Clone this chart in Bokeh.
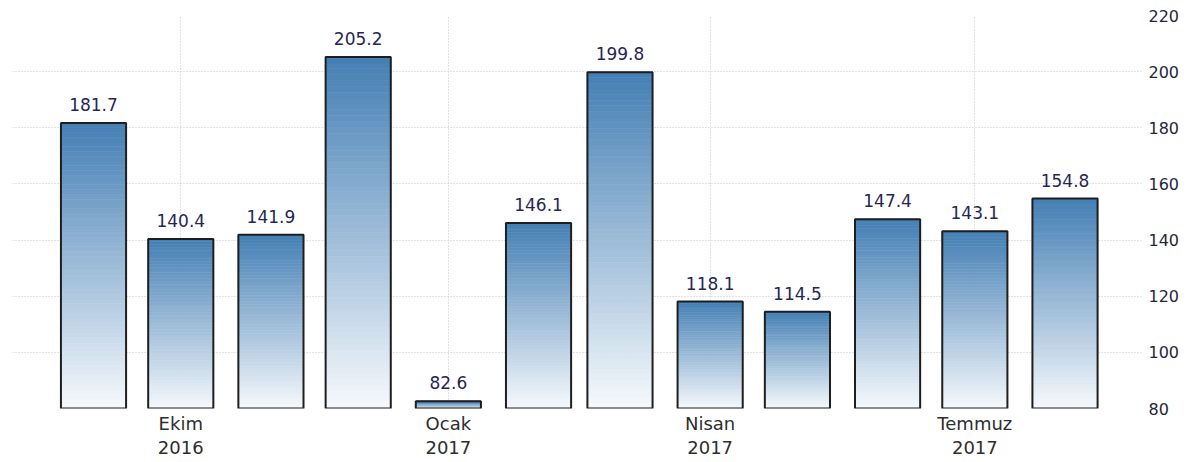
import pandas as pd
from bokeh.plotting import figure
from bokeh.models import Range1d, FixedTicker, ColumnDataSource
from bokeh.embed import file_html
from bokeh.resources import INLINE
from bokeh.core.properties import value

# ---- data ----
months = ["2016-09-01", "2016-10-01", "2016-11-01", "2016-12-01", "2017-01-01", "2017-02-01",
          "2017-03-01", "2017-04-01", "2017-05-01", "2017-06-01", "2017-07-01", "2017-08-01"]
values = [181.7, 140.4, 141.9, 205.2, 82.6, 146.1, 199.8, 118.1, 114.5, 147.4, 143.1, 154.8]
tick_months = ["2016-10-01", "2017-01-01", "2017-04-01", "2017-07-01"]
tick_labels = ["Ekim\n2016", "Ocak\n2017", "Nisan\n2017", "Temmuz\n2017"]
y_ticks = [80, 100, 120, 140, 160, 180, 200, 220]

base = pd.Timestamp(months[0])
xs = [(pd.Timestamp(m) - base).days for m in months]
tx = [(pd.Timestamp(m) - base).days for m in tick_months]

Y0, Y1 = 80, 220
HALF = 11.2  # half bar width in days

p = figure(frame_width=1130, frame_height=393, output_backend="svg", toolbar_location=None,
           x_range=Range1d(-27.85, 360.64), y_range=Range1d(Y0, Y1),
           y_axis_location="right", min_border_left=12, min_border_right=0,
           min_border_top=15, min_border_bottom=0)
p.outline_line_color = None
p.background_fill_color = "white"
p.border_fill_color = "white"

# gradient bars: slices from base to value
N = 60
top_c = (68, 127, 180)
bot_c = (246, 249, 252)
L, R, B, T, C = [], [], [], [], []
for x, v in zip(xs, values):
    h = v - Y0
    for k in range(N):
        b = Y0 + h * k / N
        t = Y0 + h * (k + 1) / N
        f = (k + 0.5) / N
        col = tuple(int(round(bot_c[i] + (top_c[i] - bot_c[i]) * f)) for i in range(3))
        L.append(x - HALF); R.append(x + HALF); B.append(b); T.append(t)
        C.append("#%02x%02x%02x" % col)
p.quad(left=L, right=R, bottom=B, top=T, fill_color=C, line_color=C, line_width=0.6)

src = ColumnDataSource(dict(x=xs, v=values, left=[x - HALF for x in xs],
                            right=[x + HALF for x in xs], lab=["%.1f" % v for v in values]))
p.quad(left="left", right="right", bottom=Y0, top="v", source=src,
       fill_color=None, line_color="#1e1e1e", line_width=2)

p.text(x="x", y="v", text="lab", source=src, text_align="center", text_baseline="bottom",
       y_offset=-12, text_font=value("DejaVu Sans"), text_font_size="17px",
       text_color="#262655")

# axes
p.xaxis.ticker = FixedTicker(ticks=tx)
p.xaxis.major_label_overrides = {t: l for t, l in zip(tx, tick_labels)}
p.xaxis.axis_line_color = None
p.xaxis.major_tick_line_color = None
p.xaxis.minor_tick_line_color = None
p.xaxis.major_tick_out = 0
p.xaxis.major_tick_in = 0
p.xaxis.major_label_standoff = 4
p.xaxis.major_label_text_font = "DejaVu Sans"
p.xaxis.major_label_text_font_size = "18px"
p.xaxis.major_label_text_line_height = 1.15
p.xaxis.major_label_text_color = "#2e2e2e"

p.yaxis.ticker = FixedTicker(ticks=y_ticks)
p.yaxis.axis_line_color = None
p.yaxis.major_tick_line_color = None
p.yaxis.minor_tick_line_color = None
p.yaxis.major_tick_out = 0
p.yaxis.major_tick_in = 0
p.yaxis.major_label_standoff = 6
p.yaxis.major_label_text_font = "DejaVu Sans"
p.yaxis.major_label_text_font_size = "16px"
p.yaxis.major_label_text_color = "#26263a"

p.xgrid.ticker = FixedTicker(ticks=tx)
for g in (p.xgrid, p.ygrid):
    g.grid_line_color = "#c4c4c4"
    g.grid_line_dash = "1 2"
    g.grid_line_width = 1
p.xgrid.level = "underlay"
p.ygrid.level = "underlay"

open("out.html", "w").write(file_html(p, INLINE))
